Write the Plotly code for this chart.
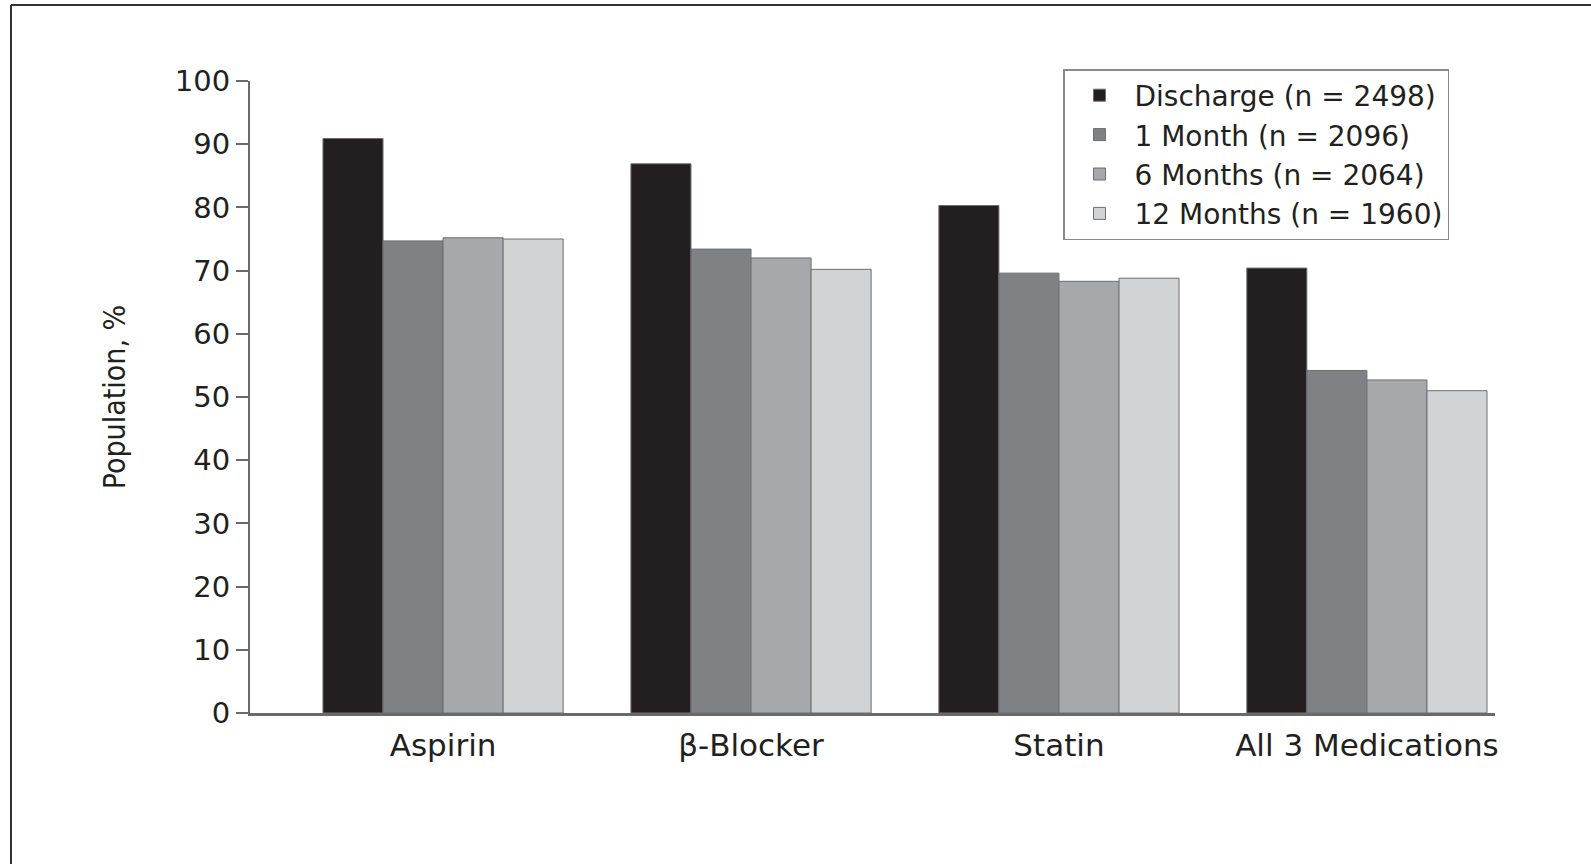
import plotly.graph_objects as go

categories = ["Aspirin", "β-Blocker", "Statin", "All 3 Medications"]
series_names = ["Discharge (n = 2498)", "1 Month (n = 2096)", "6 Months (n = 2064)", "12 Months (n = 1960)"]
discharge = [90.9, 86.9, 80.3, 70.4]
month_1 = [74.7, 73.4, 69.6, 54.2]
month_6 = [75.2, 72.0, 68.3, 52.7]
month_12 = [75.0, 70.2, 68.8, 51.0]
y_ticks = [0, 10, 20, 30, 40, 50, 60, 70, 80, 90, 100]

series_values = [discharge, month_1, month_6, month_12]
colors = ["#231f20", "#7f8184", "#a6a8ab", "#d1d3d4"]

fig = go.Figure()
for name, vals, col in zip(series_names, series_values, colors):
    fig.add_trace(go.Bar(
        x=categories, y=vals, name=name,
        marker=dict(color=col, line=dict(color="#6e6e70", width=1)),
    ))

W, H = 1591, 864
L, R, T, B = 250, 1495, 81, 713
FONT = "DejaVu Sans, Liberation Sans, Arial, sans-serif"
fig.update_layout(
    width=W, height=H,
    margin=dict(l=L, r=W - R, t=T, b=H - B),
    plot_bgcolor="white", paper_bgcolor="white",
    barmode="group", bargap=0.22, bargroupgap=0,
    font=dict(family=FONT, color="#231f20"),
    showlegend=True,
    legend=dict(
        x=(1063 - L) / (R - L), y=(B - 69) / (B - T),
        xanchor="left", yanchor="top",
        bgcolor="white", bordercolor="#8a8a8a", borderwidth=1.5,
        font=dict(size=28, color="#231f20", family=FONT),
        itemwidth=60, tracegroupgap=0,
    ),
    xaxis=dict(
        range=[-0.627, 3.416],
        showline=True, linecolor="#6a6a6a", linewidth=2.5,
        ticks="", showgrid=False, zeroline=False,
        tickfont=dict(size=31, color="#231f20", family=FONT),
        ticklabelstandoff=3,
    ),
    yaxis=dict(
        range=[0, 100], tickvals=y_ticks,
        showline=True, linecolor="#6a6a6a", linewidth=2,
        ticks="outside", ticklen=12, tickwidth=1.5, tickcolor="#6a6a6a",
        showgrid=False, zeroline=False,
        tickfont=dict(size=29, color="#231f20", family=FONT),
        title=dict(text="Population, %",
                   font=dict(size=30, family="Liberation Sans Narrow, DejaVu Sans Condensed, Liberation Sans, sans-serif", color="#231f20"),
                   standoff=40),
    ),
    shapes=[
        dict(type="line", xref="paper", yref="paper",
             x0=(11 - L) / (R - L), x1=(W - L) / (R - L),
             y0=(B - 5) / (B - T), y1=(B - 5) / (B - T),
             line=dict(color="#333333", width=2)),
        dict(type="line", xref="paper", yref="paper",
             x0=(11 - L) / (R - L), x1=(11 - L) / (R - L),
             y0=(B - 5) / (B - T), y1=(B - H) / (B - T),
             line=dict(color="#333333", width=2)),
    ],
)

fig.write_html("out.html", config={"displayModeBar": False},
               post_script="document.body.style.margin='0px';")
